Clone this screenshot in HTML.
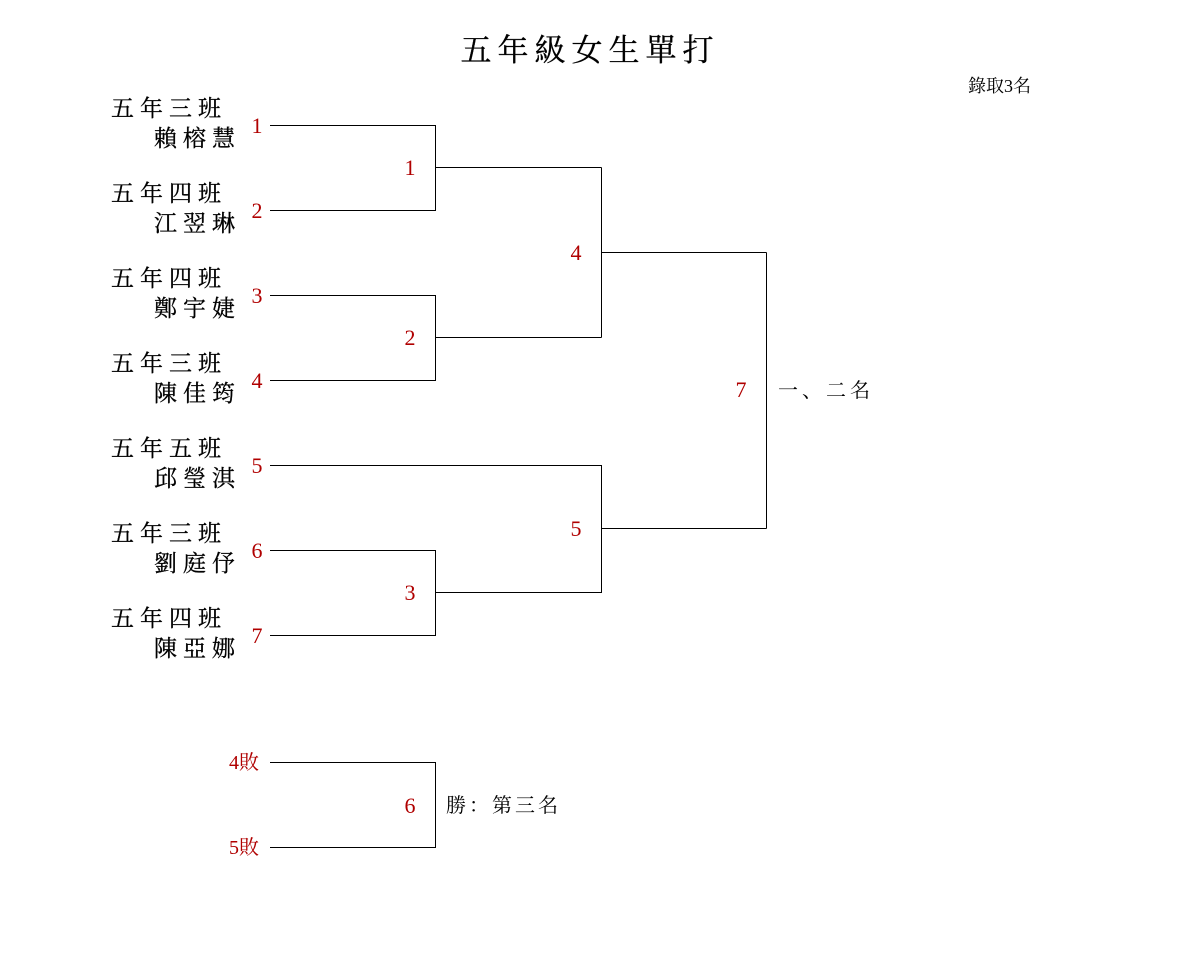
<!DOCTYPE html>
<html><head><meta charset="utf-8"><style>
html,body{margin:0;padding:0;background:#fff;}
svg text{font-family:"Liberation Serif","Noto Serif CJK SC",serif;}
.n{fill:#b00000;font-size:22px;}
.c{font-size:23px;letter-spacing:6px;fill:#000;stroke:#000;stroke-width:0.3px;}
</style></head><body>
<svg width="1180" height="975" xmlns="http://www.w3.org/2000/svg">
<text x="590" y="61" text-anchor="middle" font-size="31" letter-spacing="6" stroke="#000" stroke-width="0.3">五年級女生單打</text>
<text x="968" y="92" font-size="18">錄取3名</text>
<g stroke="#000" stroke-width="1" fill="none" shape-rendering="crispEdges">
<path d="M270 125.5H435.5V210.5H270M435.5 167.5H601.5"/>
<path d="M270 295.5H435.5V380.5H270M435.5 337.5H601.5"/>
<path d="M601.5 167.5V337.5M601.5 252.5H766.5"/>
<path d="M270 465.5H601.5V592.5H435.5M601.5 528.5H766.5"/>
<path d="M270 550.5H435.5V635.5H270"/>
<path d="M766.5 252.5V528.5"/>
<path d="M270 762.5H435.5V847.5H270"/>
</g>
<g class="c">
<text x="111" y="116">五年三班</text><text x="154" y="146">賴榕慧</text>
<text x="111" y="201">五年四班</text><text x="154" y="231">江翌琳</text>
<text x="111" y="286">五年四班</text><text x="154" y="316">鄭宇婕</text>
<text x="111" y="371">五年三班</text><text x="154" y="401">陳佳筠</text>
<text x="111" y="456">五年五班</text><text x="154" y="486">邱瑩淇</text>
<text x="111" y="541">五年三班</text><text x="154" y="571">劉庭伃</text>
<text x="111" y="626">五年四班</text><text x="154" y="656">陳亞娜</text>
</g>
<g class="n" text-anchor="middle">
<text x="257" y="133">1</text><text x="257" y="218">2</text><text x="257" y="303">3</text>
<text x="257" y="388">4</text><text x="257" y="473">5</text><text x="257" y="558">6</text>
<text x="257" y="643">7</text>
<text x="410" y="175">1</text><text x="410" y="345">2</text><text x="410" y="600">3</text>
<text x="576" y="260">4</text><text x="576" y="536">5</text><text x="741" y="397">7</text>
<text x="410" y="813">6</text>
</g>
<g class="n" text-anchor="end">
<text x="259" y="769" style="font-size:20px">4敗</text>
<text x="259" y="854" style="font-size:20px">5敗</text>
</g>
<text x="778" y="397" font-size="20" letter-spacing="4">一、二名</text>
<text x="446" y="812" font-size="20" letter-spacing="3">勝：第三名</text>
</svg>
</body></html>
